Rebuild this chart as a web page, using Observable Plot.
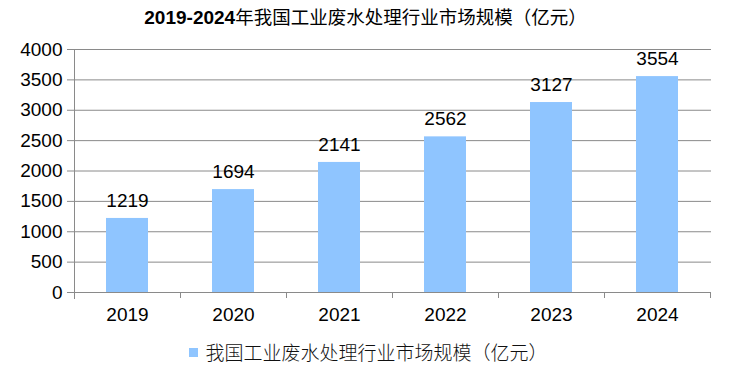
<!DOCTYPE html>
<html>
<head>
<meta charset="utf-8">
<script src="https://cdn.jsdelivr.net/npm/d3@7"></script>
<script src="https://cdn.jsdelivr.net/npm/@observablehq/plot@0.6"></script>
<style>
  html, body { margin: 0; padding: 0; background: #fff; }
  #wrap { position: relative; width: 731px; height: 374px; overflow: hidden; font-family: "Liberation Sans", Arial, sans-serif; }
  #title { position: absolute; left: 0; top: 4px; width: 731px; text-align: center; line-height: 24px; font-size: 18.5px; color: #000; }
  #title .num { font-family: "Liberation Sans", Arial, sans-serif; font-weight: bold; font-size: 19px; }
  #title .cjk { font-family: "Noto Sans CJK SC", sans-serif; font-weight: normal; }
  #chart { position: absolute; left: 0; top: 40px; }
  #legend { position: absolute; left: 0; top: 340px; width: 731px; display: flex; justify-content: center; align-items: center; line-height: 24px; padding-left: 6px; box-sizing: border-box; }
  #legend .sw { width: 9px; height: 9px; margin-right: 7px; }
  #legend .lb { font-family: "Noto Sans CJK SC", sans-serif; font-size: 19px; color: #111; font-weight: 300; }
</style>
</head>
<body>
<div id="wrap">
  <div id="title"></div>
  <div id="chart"></div>
  <div id="legend"></div>
</div>
<script>
const titleNum = "2019-2024";
const titleText = "年我国工业废水处理行业市场规模（亿元）";
const seriesName = "我国工业废水处理行业市场规模（亿元）";
const years = ["2019", "2020", "2021", "2022", "2023", "2024"];
const values = [1219, 1694, 2141, 2562, 3127, 3554];
const yTicks = [0, 500, 1000, 1500, 2000, 2500, 3000, 3500, 4000];
const barColor = "#8fc5ff";
const gridColor = "#8a8a8a";

document.getElementById("title").innerHTML =
  `<span class="num">${titleNum}</span><span class="cjk">${titleText}</span>`;
document.getElementById("legend").innerHTML =
  `<div class="sw" style="background:${barColor}"></div><div class="lb">${seriesName}</div>`;

const data = years.map((y, i) => ({year: y, value: values[i]}));

const plot = Plot.plot({
  width: 731,
  height: 295,
  marginTop: 9,
  marginBottom: 43,
  marginLeft: 74,
  marginRight: 20,
  style: {fontFamily: "Liberation Sans, Arial, sans-serif", fontSize: "19px", color: "#000", background: "#fff"},
  x: {domain: years, paddingInner: 0.6, paddingOuter: 0.3, label: null},
  y: {domain: [0, 4000], label: null},
  marks: [
    Plot.gridY(yTicks, {stroke: gridColor, strokeOpacity: 1}),
    Plot.axisY(yTicks, {tickSize: 7, tickPadding: 5, stroke: gridColor, fill: "#000", fontSize: 19, tickFormat: d => String(d), label: null}),
    Plot.barY(data, {x: "year", y: "value", fill: barColor}),
    Plot.text(data, {x: "year", y: "value", text: d => String(d.value), dy: -18, fontSize: 19, fill: "#000"}),
    Plot.axisX({tickSize: 0, tickPadding: 15, fontSize: 19, fill: "#000", label: null})
  ]
});

document.getElementById("chart").appendChild(plot);

// axis lines and category separator ticks, positioned with the plot's scales
const xs = plot.scale("x");
const ys = plot.scale("y");
const step = xs.apply(years[1]) - xs.apply(years[0]);
const y0 = ys.apply(0);
const yTop = ys.apply(4000);
const xLeft = xs.range[0];
const svg = d3.select(plot);
const g = svg.append("g").attr("stroke", gridColor).attr("stroke-width", 1);
g.append("line")
  .attr("x1", xLeft + 0.5).attr("x2", xLeft + 0.5)
  .attr("y1", yTop).attr("y2", y0 + 7);
years.forEach(yr => {
  const cx = xs.apply(yr) + xs.bandwidth / 2 + step / 2;
  g.append("line")
    .attr("x1", Math.round(cx) + 0.5).attr("x2", Math.round(cx) + 0.5)
    .attr("y1", y0).attr("y2", y0 + 6);
});
</script>
</body>
</html>
